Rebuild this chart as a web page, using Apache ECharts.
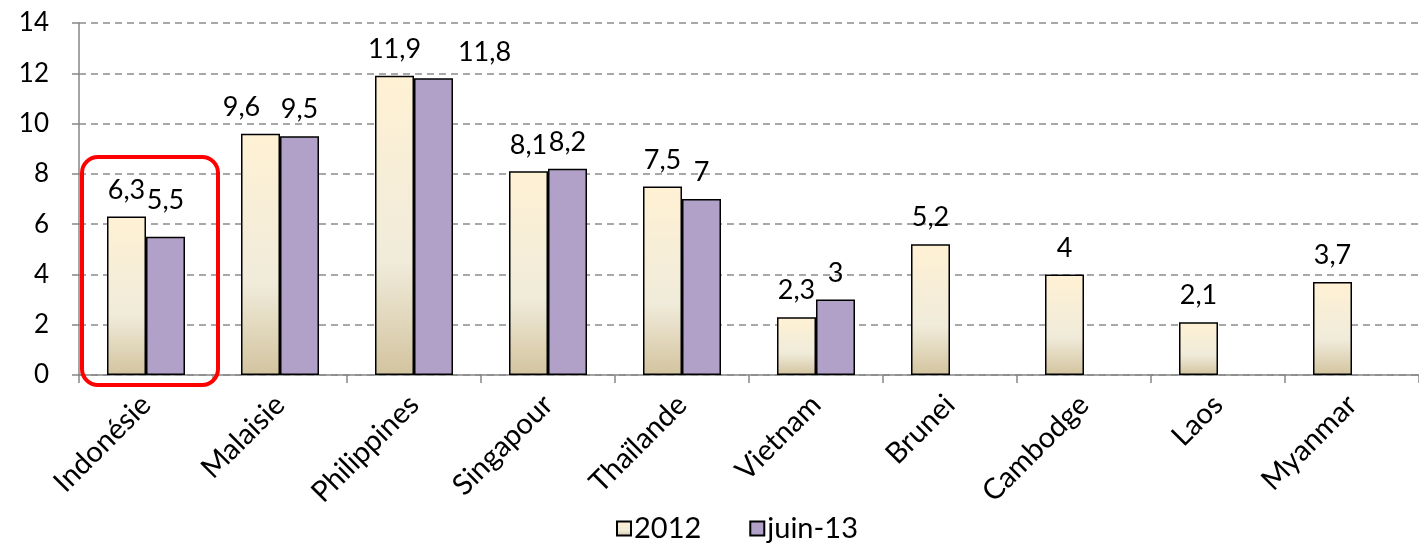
<!DOCTYPE html>
<html>
<head>
<meta charset="utf-8">
<script src="https://cdn.jsdelivr.net/npm/echarts@6/dist/echarts.min.js"></script>
<style>
html, body { margin: 0; padding: 0; background: #fff; }
#main { width: 1419px; height: 551px; }
</style>
</head>
<body>
<div id="main"></div>
<script>
// pays
var categories = ['Indonésie', 'Malaisie', 'Philippines', 'Singapour', 'Thaïlande',
    'Vietnam', 'Brunei', 'Cambodge', 'Laos', 'Myanmar'];
// valeurs 2012
var values2012 = [6.3, 9.6, 11.9, 8.1, 7.5, 2.3, 5.2, 4, 2.1, 3.7];
// valeurs juin-13 (pas de donnée pour les 4 derniers)
var valuesJuin13 = [5.5, 9.5, 11.8, 8.2, 7, 3, null, null, null, null];
var yTicks = [0, 2, 4, 6, 8, 10, 12, 14];

var fmt = function (p) {
    return String(p.value).replace('.', ',');
};

// petits décalages des étiquettes comme dans Excel (série, catégorie) -> [dx, dy]
var labelNudge = {
    '0-1': [-19, 0],
    '1-0': [0, -10],
    '1-2': [51, 0]
};

var chart = echarts.init(document.getElementById('main'));

var labelStyle = {
    show: true,
    position: 'top',
    distance: 13,
    fontSize: 27,
    color: '#000',
    formatter: fmt
};

var nudge = function (params) {
    var n = labelNudge[params.seriesIndex + '-' + params.dataIndex];
    return n ? { dx: n[0], dy: n[1] } : {};
};

var option = {
    backgroundColor: '#fff',
    animation: false,
    textStyle: { fontFamily: 'Lato', color: '#000' },
    grid: { left: 79, right: -10, top: 23, bottom: 176 },
    legend: {
        bottom: 3,
        left: 611,
        icon: 'rect',
        itemWidth: 14,
        itemHeight: 14,
        itemGap: 48,
        textStyle: { fontSize: 29, color: '#000', padding: [0, 0, 0, -2] },
        data: ['2012', 'juin-13']
    },
    xAxis: {
        type: 'category',
        data: categories,
        axisLine: { lineStyle: { color: '#868686', width: 1.5 } },
        axisTick: { show: true, length: 8, lineStyle: { color: '#868686', width: 1.5 } },
        axisLabel: { rotate: 45, fontSize: 29, color: '#000', margin: 25, interval: 0 }
    },
    yAxis: {
        type: 'value',
        min: yTicks[0],
        max: yTicks[yTicks.length - 1],
        interval: 2,
        axisLine: { show: true, lineStyle: { color: '#868686', width: 1.5 } },
        axisTick: { show: true, length: 7, lineStyle: { color: '#868686', width: 1.5 } },
        axisLabel: { fontSize: 26, color: '#000', margin: 30 },
        splitLine: { lineStyle: { color: '#8c8c8c', width: 1.5, type: [7, 5] } }
    },
    series: [{
        name: '2012',
        type: 'bar',
        data: values2012,
        barWidth: 39,
        barGap: '0%',
        itemStyle: {
            color: new echarts.graphic.LinearGradient(0, 0, 0, 1, [
                { offset: 0, color: '#FFF1D4' },
                { offset: 0.62, color: '#F0EBDA' },
                { offset: 1, color: '#D3C49F' }
            ]),
            borderColor: '#000',
            borderWidth: 1.5
        },
        label: labelStyle,
        labelLayout: nudge
    }, {
        name: 'juin-13',
        type: 'bar',
        data: valuesJuin13,
        barWidth: 39,
        barGap: '0%',
        itemStyle: { color: '#B1A0C7', borderColor: '#000', borderWidth: 1.5 },
        label: labelStyle,
        labelLayout: nudge
    }],
    // cadre rouge autour de l'Indonésie
    graphic: [{
        type: 'rect',
        z: 100,
        shape: { x: 82, y: 157, width: 136, height: 228, r: 16 },
        style: { fill: 'none', stroke: '#FF0000', lineWidth: 4 }
    }]
};

chart.setOption(option);
</script>
</body>
</html>
